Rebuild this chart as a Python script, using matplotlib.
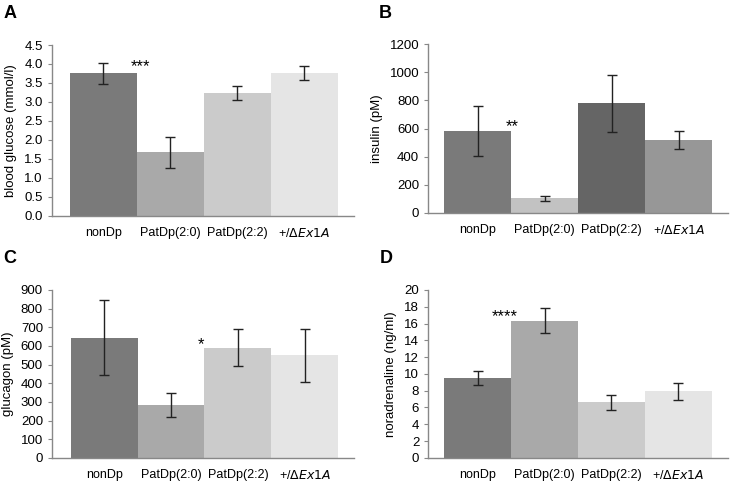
import matplotlib.pyplot as plt
import numpy as np

plt.rcParams['font.family'] = ['Liberation Sans', 'DejaVu Sans']

groups = ['nonDp', 'PatDp(2:0)', 'PatDp(2:2)', r'+/$\it{\Delta Ex1A}$']

glucose = [3.75, 1.68, 3.24, 3.77]
glucose_err = [0.27, 0.41, 0.18, 0.18]
insulin = [580, 105, 780, 518]
insulin_err = [177, 18, 202, 62]
glucagon = [645, 283, 590, 550]
glucagon_err = [199, 63, 100, 141]
noradr = [9.5, 16.35, 6.6, 7.95]
noradr_err = [0.8, 1.5, 0.9, 1.0]

grays = ['#7a7a7a', '#a9a9a9', '#cbcbcb', '#e5e5e5']
grays_b = ['#7a7a7a', '#c2c2c2', '#656565', '#979797']

panels = [
    # letter, values, errors, colors, ylabel, ylim, ystep, fmt, stars, star pos, axes rect, xlim, letter pos
    ('A', glucose, glucose_err, grays, 'blood glucose (mmol/l)', 4.5, 0.5, '{:.1f}',
     '***', (0.55, 3.92), [0.071, 0.554, 0.413, 0.353], (-0.77, 3.75), (0.005, 0.972)),
    ('B', insulin, insulin_err, grays_b, 'insulin (pM)', 1200, 200, '{:.0f}',
     '**', (0.52, 615), [0.585, 0.560, 0.410, 0.349], (-0.74, 3.74), (0.518, 0.972)),
    ('C', glucagon, glucagon_err, grays, 'glucagon (pM)', 900, 100, '{:.0f}',
     '*', (1.45, 605), [0.071, 0.054, 0.413, 0.347], (-0.78, 3.74), (0.005, 0.465)),
    ('D', noradr, noradr_err, grays, 'noradrenaline (ng/ml)', 20, 2, '{:.0f}',
     '****', (0.41, 16.8), [0.585, 0.054, 0.410, 0.347], (-0.74, 3.75), (0.519, 0.465)),
]

fig = plt.figure(figsize=(7.32, 4.84), dpi=100)

for letter, vals, errs, cols, ylab, ymax, ystep, fmt, stars, spos, rect, xl, lpos in panels:
    ax = fig.add_axes(rect)
    x = np.arange(len(vals))
    ax.bar(x, vals, width=1.0, color=cols, edgecolor='none')
    ax.errorbar(x, vals, yerr=errs, fmt='none', ecolor='#222222',
                elinewidth=1.0, capsize=3.5, capthick=1.0)
    ax.set_xlim(*xl)
    ax.set_ylim(0, ymax)
    ticks = np.arange(0, ymax + ystep / 2, ystep)
    ax.set_yticks(ticks)
    ax.set_yticklabels([fmt.format(t) for t in ticks], fontsize=9.5)
    ax.set_xticks(x)
    ax.set_xticklabels(groups, fontsize=9)
    ax.tick_params(axis='x', length=0, pad=8)
    ax.tick_params(axis='y', length=3, width=0.8, color='#888888', pad=3.5)
    for s in ['top', 'right']:
        ax.spines[s].set_visible(False)
    for s in ['left', 'bottom']:
        ax.spines[s].set_color('#888888')
        ax.spines[s].set_linewidth(1.0)
    ax.set_ylabel(ylab, fontsize=9.5, labelpad=5)
    ax.text(spos[0], spos[1], stars, ha='center', va='center', fontsize=12)
    fig.text(lpos[0], lpos[1], letter, fontsize=13, fontweight='bold',
             ha='left', va='center')

fig.savefig('out.png', dpi=100)
